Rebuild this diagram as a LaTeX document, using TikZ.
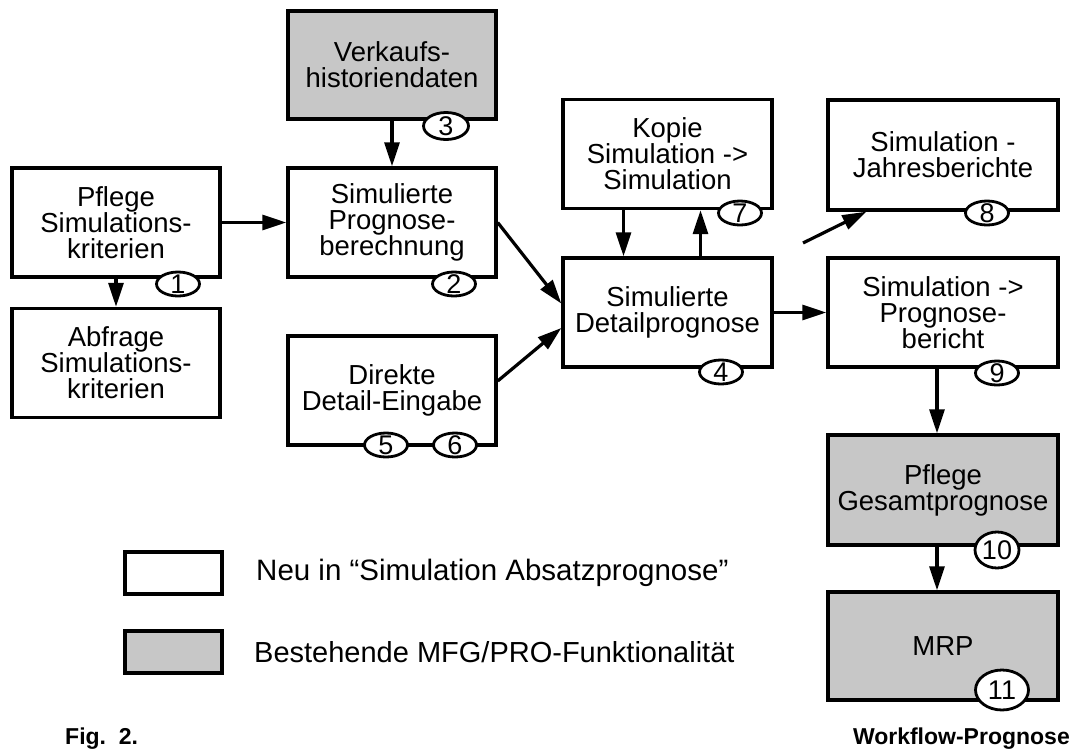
\documentclass[tikz,border=0pt]{standalone}
\usepackage{fontspec}
\setmainfont{Liberation Sans}
\usetikzlibrary{arrows.meta,shapes.geometric}

\begin{document}
\begin{tikzpicture}[x=1pt,y=-1pt,font=\fontsize{27.5}{26}\selectfont,
    box/.style={draw,line width=3.4pt,minimum width=208pt,minimum height=109pt,inner sep=0pt,align=center},
    wide/.style={box,minimum width=230pt},
    old/.style={fill=black!22},
    num/.style={draw,ellipse,fill=white,line width=2.8pt,minimum width=43pt,minimum height=24pt,inner sep=-20pt,font=\fontsize{27}{27}\selectfont},
    pfeil/.style={line width=3.2pt,-{Triangle[length=24pt,width=15pt]}}]

    \useasboundingbox (0,0) rectangle (1077,755);

    \node[box] (pfl) at (116,222.5) {Pflege\\Simulations-\\kriterien};
    \node[box] (abf) at (116,363) {Abfrage\\Simulations-\\kriterien};
    \node[box,old,minimum height=108pt] (hist) at (392,65) {Verkaufs-\\historiendaten};
    \node[box] (ber) at (392,222.5) {Simulierte\\Prognose-\\berechnung};
    \node[box] (dir) at (392,390.5) {Direkte\\Detail-Eingabe};
    \node[box,minimum width=209pt] (kop) at (667.5,154) {Kopie\\Simulation ->\\Simulation};
    \node[box,minimum width=209pt] (det) at (667.5,312.5) {Simulierte\\Detailprognose};
    \node[wide,minimum height=110pt] (jahr) at (943,155) {Simulation -\\Jahresberichte};
    \node[wide] (bericht) at (943,312.5) {Simulation ->\\Prognose-\\bericht};
    \node[wide,old,minimum height=110pt] (ges) at (943,490) {Pflege\\Gesamtprognose};
    \node[wide,old,minimum height=108pt] (mrp) at (943,646) {MRP};

    \draw[pfeil] (pfl) -- (ber);
    \draw[pfeil] (pfl) -- (abf);
    \draw[pfeil] (hist) -- (ber);
    \draw[pfeil] (ber.east) -- ([yshift=9pt]det.west);
    \draw[pfeil] ([yshift=9.5pt]dir.east) -- ([yshift=-15.5pt]det.west);
    \draw[pfeil] ([xshift=-44pt]kop.south) -- ([xshift=-44pt]det.north);
    \draw[pfeil] ([xshift=33pt]det.north) -- ([xshift=33pt]kop.south);
    \draw[pfeil] (det) -- (bericht);
    \coordinate (los) at (803,243);
    \draw[pfeil] (los) -- ([xshift=40pt]jahr.south west);
    \draw[pfeil] ([xshift=-6pt]bericht.south) -- ([xshift=-6pt]ges.north);
    \draw[pfeil] ([xshift=-6pt]ges.south) -- ([xshift=-6pt]mrp.north);

    \node[num] (n1) at (178,284) {1};
    \node[num] (n2) at (454,284) {2};
    \node[num,minimum width=45pt,minimum height=27pt] (n3) at (446,126) {3};
    \node[num] (n4) at (721,372) {4};
    \node[num] (n5) at (386,445) {5};
    \node[num] (n6) at (455,445) {6};
    \node[num] (n7) at (740,213) {7};
    \node[num] (n8) at (987,213) {8};
    \node[num] (n9) at (997,373) {9};
    \node[num,minimum width=44pt,minimum height=36pt] (n10) at (997,550) {10};
    \node[num,minimum width=53pt,minimum height=40pt] (n11) at (1002,690) {11};

    \node[draw,line width=3.4pt,minimum width=97pt,minimum height=42pt] (neu) at (173.5,573) {};
    \node[draw,old,line width=3.4pt,minimum width=97pt,minimum height=42pt] (alt) at (173.5,652) {};
    \node[anchor=west,inner sep=0pt,font=\fontsize{29.5}{30}\selectfont] (neutext) at (256,573) {Neu in “Simulation Absatzprognose”};
    \node[anchor=west,inner sep=0pt,font=\fontsize{29}{30}\selectfont] (alttext) at (254,652) {Bestehende MFG/PRO-Funktionalität};

    \node[anchor=base west,inner sep=0pt,font=\bfseries\fontsize{23}{24}\selectfont] (fig) at (65,744) {Fig.~~2.};
    \node[anchor=base east,inner sep=0pt,font=\bfseries\fontsize{23}{24}\selectfont] (titel) at (1070,744) {Workflow-Prognose};
\end{tikzpicture}
\end{document}
